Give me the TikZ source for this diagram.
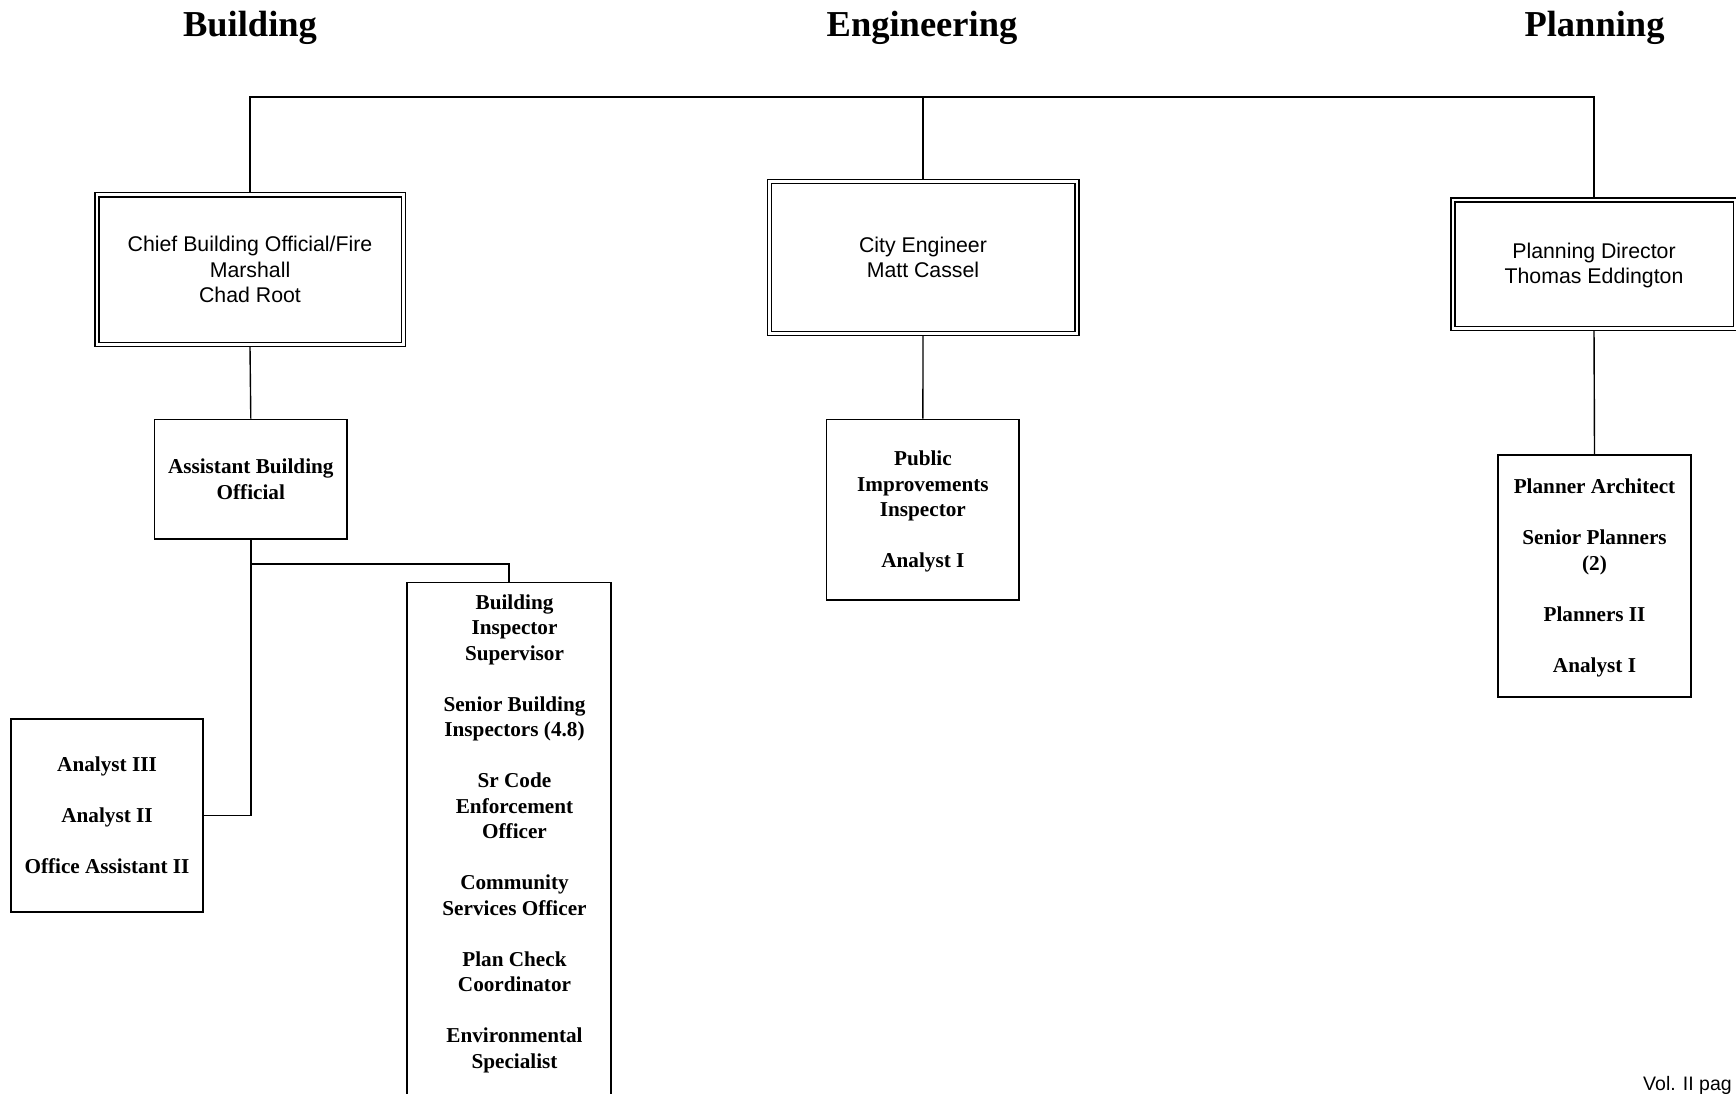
\documentclass[tikz,border=0pt]{standalone}
\usepackage{fontspec}
\setmainfont{Liberation Serif}
\newfontfamily\arialfont{Liberation Sans}
% strut that pushes the first line of a box slightly lower
\newcommand\firstlinestrut{\rule{0pt}{18.5pt}}
\begin{document}
\begin{tikzpicture}[x=1pt,y=-1pt,
  heading/.style={font=\fontsize{36.5}{40}\selectfont\bfseries, anchor=base, inner sep=0},
  headbox/.style={draw, double, line width=1.5pt, double distance=2.5pt, outer sep=2.75pt,
    inner sep=0, align=center, font=\arialfont\fontsize{21.3}{25.5}\selectfont},
  staffbox/.style={draw, line width=1.4pt, inner sep=0, align=center,
    font=\fontsize{21.2}{25.5}\selectfont\bfseries},
  stafftext/.style={inner sep=0, align=center,
    font=\fontsize{21.2}{25.5}\selectfont\bfseries},
  link/.style={line width=1.4pt}]
\useasboundingbox (0,0) rectangle (1736,1094);

% department headings
\node[heading] (hbuild) at (250,37) {Building};
\node[heading] (heng) at (922,37) {Engineering};
\node[heading] (hplan) at (1594.5,37) {Planning};

% department heads
\node[headbox, minimum width=306.5pt, minimum height=149.5pt] (chief) at (250,269.5)
  {Chief Building Official/Fire\\Marshall\\Chad Root};
\node[headbox, minimum width=307.5pt, minimum height=151.5pt] (city) at (923,257.5)
  {City Engineer\\Matt Cassel};
\node[headbox, minimum width=282.5pt, minimum height=128.5pt] (plan) at (1594,264)
  {\firstlinestrut Planning Director\\Thomas Eddington};

% staff boxes
\node[staffbox, minimum width=192.3pt, minimum height=119.7pt] (abo) at (250.8,479.2)
  {Assistant Building\\Official};
\node[staffbox, minimum width=192pt, minimum height=193pt] (anl) at (107,815.5)
  {Analyst III\\[25.5pt]Analyst II\\[25.5pt]Office Assistant II};
\node[staffbox, minimum width=204pt, minimum height=540pt, anchor=north] (bis) at (509,582) {};
\node[stafftext] (bistext) at (514.5,831.5)
  {\firstlinestrut Building\\Inspector\\Supervisor\\[25.5pt]Senior Building\\Inspectors (4.8)\\[25.5pt]Sr Code\\Enforcement\\Officer\\[25.5pt]Community\\Services Officer\\[25.5pt]Plan Check\\Coordinator\\[25.5pt]Environmental\\Specialist};
\node[staffbox, minimum width=192.3pt, minimum height=180.7pt] (pi) at (922.9,509.6)
  {\firstlinestrut Public\\Improvements\\Inspector\\[25.5pt]Analyst I};
\node[staffbox, minimum width=193pt, minimum height=242pt] (planner) at (1594.5,576)
  {\firstlinestrut Planner Architect\\[25.5pt]Senior Planners\\(2)\\[25.5pt]Planners II\\[25.5pt]Analyst I};

% connectors
\coordinate (bus) at (0,97);
\coordinate (fork) at (250.8,564);
\draw[link] (chief.north) -- (chief.north |- bus) -- (plan.north |- bus) -- (plan.north);
\draw[link] (city.north |- bus) -- (city.north);
\draw[link] (chief.south) -- (abo.north);
\draw[link] (abo.south) |- (anl.east);
\draw[link] (fork) -| (bis.north);
\draw[link] (city.south) -- (pi.north);
\draw[link] (plan.south) -- (planner.north);

% page footer
\node[anchor=base west, inner sep=0, font=\arialfont\fontsize{19.5}{22}\selectfont] (footer) at (1643,1090) {Vol. II pag};
\end{tikzpicture}
\end{document}
